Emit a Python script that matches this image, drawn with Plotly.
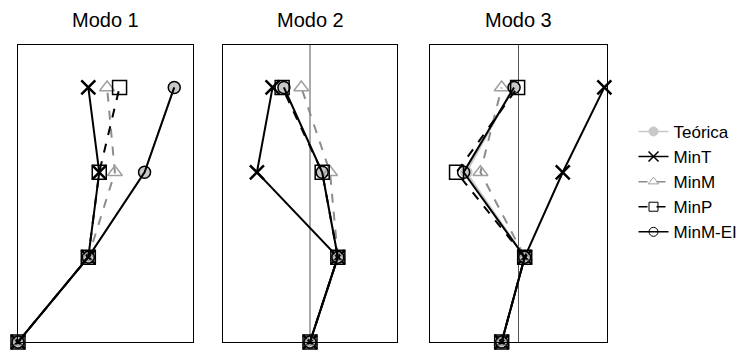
import plotly.graph_objects as go

# levels (base + 3 floors)
niveles = [0, 1, 2, 3]
modos = ["Modo 1", "Modo 2", "Modo 3"]

# mode-shape ordinates per method, one list per mode (base, 1, 2, 3)
teorica = [[0, 0.45, 0.81, 1.00], [0, 0.32, 0.14, -0.30], [-0.19, 0.07, -0.59, -0.06]]
min_t = [[0, 0.45, 0.52, 0.45], [0, 0.32, -0.61, -0.43], [-0.19, 0.07, 0.50, 0.97]]
min_m = [[0, 0.45, 0.62, 0.57], [0, 0.32, 0.23, -0.10], [-0.19, 0.07, -0.43, -0.19]]
min_p = [[0, 0.45, 0.52, 0.65], [0, 0.32, 0.14, -0.32], [-0.19, 0.07, -0.70, -0.01]]
min_m_ei = [[0, 0.45, 0.81, 1.00], [0, 0.32, 0.14, -0.30], [-0.19, 0.07, -0.62, -0.05]]

x_ranges = [[0, 1.12], [-1, 1], [-1, 1]]

# name, data, line, marker symbol, marker colour, plot size, legend size
series = [
    ("Teórica", teorica, dict(color="#c8c8c8", width=2, dash="solid"), "circle", "#c8c8c8", 11, 9),
    ("MinT", min_t, dict(color="black", width=2, dash="solid"), "x-thin", "black", 14, 10),
    ("MinM", min_m, dict(color="#8c8c8c", width=2, dash="dash"), "triangle-up-open", "#a0a0a0", 13, 9),
    ("MinP", min_p, dict(color="black", width=2, dash="dash"), "square-open", "black", 14, 9),
    ("MinM-EI", min_m_ei, dict(color="black", width=2, dash="solid"), "circle-open", "black", 12, 9),
]

# page body has an 8px offset, so the figure is 742x345
x_domains = [[10 / 742, 185 / 742], [215 / 742, 389 / 742], [422 / 742, 599 / 742]]
y_domain = [11 / 345, 308 / 345]

fig = go.Figure()
for name, vals, line, sym, mcol, size, lsize in series:
    mline = dict(color=mcol, width=2.5 if sym == "x-thin" else 1.5)
    for i in range(3):
        ax = "" if i == 0 else str(i + 1)
        fig.add_trace(go.Scatter(
            x=vals[i], y=niveles, mode="lines+markers", name=name,
            line=line, marker=dict(symbol=sym, size=size, color=mcol, line=mline),
            cliponaxis=False, xaxis="x" + ax, yaxis="y" + ax,
            legendgroup=name, showlegend=False,
        ))
    # legend entry only (smaller symbol than in the panels)
    fig.add_trace(go.Scatter(
        x=[None], y=[None], mode="lines+markers", name=name,
        line=dict(color=line["color"], width=1.5, dash=line["dash"]),
        marker=dict(symbol=sym, size=lsize, color=mcol,
                    line=dict(color=mcol, width=1.5 if sym == "x-thin" else 1)),
        legendgroup=name, showlegend=True,
    ))

layout = dict(
    width=742, height=345,
    paper_bgcolor="white", plot_bgcolor="white",
    margin=dict(l=0, r=0, t=0, b=0),
    font=dict(family="Liberation Sans, Arial", size=17, color="black"),
    legend=dict(x=0.843, y=0.496, xanchor="left", yanchor="middle",
                font=dict(size=17), tracegroupgap=0, bgcolor="rgba(0,0,0,0)"),
    annotations=[],
    shapes=[],
)
for i in range(3):
    ax = "" if i == 0 else str(i + 1)
    layout["xaxis" + ax] = dict(domain=x_domains[i], range=x_ranges[i], showgrid=False,
                                zeroline=False, showticklabels=False, ticks="",
                                showline=True, linecolor="black", linewidth=1, mirror=True,
                                anchor="y" + ax)
    layout["yaxis" + ax] = dict(domain=y_domain, range=[0, 3.5], showgrid=False,
                                zeroline=False, showticklabels=False, ticks="",
                                showline=True, linecolor="black", linewidth=1, mirror=True,
                                anchor="x" + ax)
    layout["annotations"].append(dict(
        text=modos[i], x=sum(x_domains[i]) / 2, y=0.965, xref="paper", yref="paper",
        showarrow=False, font=dict(size=20), xanchor="center", yanchor="middle"))
    if i > 0:
        layout["shapes"].append(dict(type="line", xref="x" + ax, yref="y" + ax + " domain",
                                     x0=0, x1=0, y0=0, y1=1,
                                     line=dict(color="#555555", width=1), layer="below"))

fig.update_layout(**layout)
fig.write_html("out.html")
